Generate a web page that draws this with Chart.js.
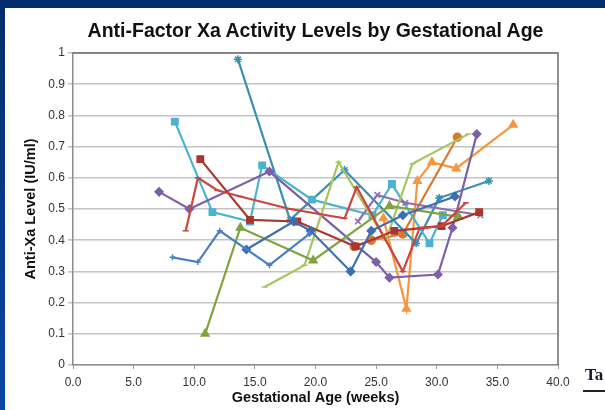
<!DOCTYPE html>
<html>
<head>
<meta charset="utf-8">
<title>Anti-Factor Xa Activity Levels by Gestational Age</title>
<script src="https://cdn.jsdelivr.net/npm/chart.js@4.4.1/dist/chart.umd.min.js"></script>
<style>
  html, body { margin: 0; padding: 0; background: #fff; }
  #wrap { position: relative; width: 605px; height: 410px; overflow: hidden; background: #fff; }
  #topband { position: absolute; left: 0; top: 0; width: 605px; height: 8px; background: #032c6c; }
  #leftband { position: absolute; left: 0; top: 0; width: 5px; height: 410px; background: linear-gradient(#032c6c, #0b46a8); }
  #title { position: absolute; left: 73px; width: 485px; top: 19px; margin: 0; line-height: 24px;
           text-align: center; white-space: nowrap; color: #111;
           font: bold 19.5px "Liberation Sans", Arial, sans-serif; }
  #ta { position: absolute; left: 585px; top: 365px; color: #1b1b2b; font: bold 17px "Liberation Serif", serif; }
  #taline { position: absolute; left: 583px; top: 390px; width: 22px; height: 2px; background: #222; }
  canvas { position: absolute; left: 0; top: 0; }
</style>
</head>
<body>
<div id="wrap">
  <canvas id="chart" width="605" height="410"></canvas>
  <div id="topband"></div>
  <div id="leftband"></div>
  <h1 id="title">Anti-Factor Xa Activity Levels by Gestational Age</h1>
  <div id="ta">Ta</div>
  <div id="taline"></div>
</div>
<script>
// Tick labels
const xTickLabels = ['0.0', '5.0', '10.0', '15.0', '20.0', '25.0', '30.0', '35.0', '40.0'];
const yTickLabels = ['0', '0.1', '0.2', '0.3', '0.4', '0.5', '0.6', '0.7', '0.8', '0.9', '1'];

// One pair of arrays per patient: gestational age (weeks) and anti-Xa level (IU/ml)
const weeksA  = [7.1, 9.6, 16.2, 25.0, 26.1, 30.1, 31.3, 33.3];
const levelsA = [0.555, 0.50, 0.62, 0.33, 0.28, 0.29, 0.44, 0.74];

const weeksB  = [10.5, 14.6, 18.5, 23.3, 26.5, 30.4, 33.5];
const levelsB = [0.66, 0.465, 0.46, 0.38, 0.43, 0.445, 0.49];

const weeksC  = [9.3, 10.3, 11.9, 13.8, 17.9, 22.4, 23.4, 27.2, 28.6, 30.4, 32.4];
const levelsC = [0.43, 0.60, 0.56, 0.54, 0.50, 0.47, 0.57, 0.30, 0.44, 0.445, 0.52];

const weeksD  = [8.4, 11.5, 14.6, 15.6, 19.7, 24.7, 26.3, 29.4, 30.5];
const levelsD = [0.78, 0.49, 0.46, 0.64, 0.53, 0.48, 0.58, 0.39, 0.48];

const weeksE  = [13.6, 17.9, 22.4, 28.3, 30.2, 34.3];
const levelsE = [0.98, 0.465, 0.625, 0.39, 0.535, 0.59];

const weeksF  = [14.3, 18.2, 19.6, 22.9, 24.6, 27.2, 31.5];
const levelsF = [0.37, 0.46, 0.43, 0.30, 0.43, 0.48, 0.54];

const weeksG  = [8.2, 10.3, 12.1, 16.2, 19.5];
const levelsG = [0.345, 0.33, 0.43, 0.32, 0.42];

const weeksH  = [10.9, 13.8, 19.8, 26.1, 31.8];
const levelsH = [0.10, 0.44, 0.335, 0.51, 0.475];

const weeksI  = [15.8, 19.1, 21.9, 25.8, 28.0, 32.6];
const levelsI = [0.25, 0.32, 0.65, 0.40, 0.645, 0.74];

const weeksJ  = [25.6, 27.5, 28.4, 29.6, 31.6, 36.3];
const levelsJ = [0.47, 0.18, 0.59, 0.65, 0.63, 0.77];

const weeksK  = [23.2, 24.6, 27.2, 31.7];
const levelsK = [0.38, 0.40, 0.42, 0.73];

const weeksL  = [23.5, 25.1, 27.4, 33.6];
const levelsL = [0.46, 0.545, 0.52, 0.48];

// Line colour and marker for each patient trace
const traces = [
  { weeks: weeksG, levels: levelsG, color: '#4a80c3', marker: 'cross',    r: 3 },
  { weeks: weeksF, levels: levelsF, color: '#3d6fb0', marker: 'rectRot',  r: 4 },
  { weeks: weeksC, levels: levelsC, color: '#c9453d', marker: 'line',     r: 3 },
  { weeks: weeksB, levels: levelsB, color: '#a9372f', marker: 'rect',     r: 4.5 },
  { weeks: weeksH, levels: levelsH, color: '#80a33f', marker: 'triangle', r: 4.5 },
  { weeks: weeksI, levels: levelsI, color: '#a6c660', marker: 'line',     r: 3 },
  { weeks: weeksA, levels: levelsA, color: '#7d60a8', marker: 'rectRot',  r: 4 },
  { weeks: weeksL, levels: levelsL, color: '#8a6db3', marker: 'crossRot', r: 4 },
  { weeks: weeksD, levels: levelsD, color: '#4bb2cf', marker: 'rect',     r: 4.5 },
  { weeks: weeksE, levels: levelsE, color: '#3b8eb4', marker: 'star',     r: 4 },
  { weeks: weeksK, levels: levelsK, color: '#d9782e', marker: 'circle',   r: 4 },
  { weeks: weeksJ, levels: levelsJ, color: '#f7963e', marker: 'triangle', r: 4.5 }
];

const datasets = traces.map(t => ({
  data: t.weeks.map((w, i) => ({ x: w, y: t.levels[i] })),
  showLine: true,
  borderColor: t.color,
  backgroundColor: t.color,
  borderWidth: 2.2,
  pointStyle: t.marker,
  pointRadius: t.r,
  pointBorderWidth: 1.5,
  pointBorderColor: t.color,
  pointBackgroundColor: t.color,
  tension: 0
}));

const FONT = '"Liberation Sans", Arial, sans-serif';

// Dark frame on the top and right edges of the plot area
const plotFrame = {
  id: 'plotFrame',
  afterDraw(chart) {
    const { ctx, chartArea: a } = chart;
    ctx.save();
    ctx.strokeStyle = '#6e6e6e';
    ctx.lineWidth = 1.5;
    ctx.beginPath();
    ctx.moveTo(a.left, a.top);
    ctx.lineTo(a.right, a.top);
    ctx.lineTo(a.right, a.bottom);
    ctx.stroke();
    ctx.restore();
  }
};

new Chart(document.getElementById('chart'), {
  type: 'scatter',
  data: { datasets },
  plugins: [plotFrame],
  options: {
    responsive: false,
    animation: false,
    layout: { padding: { top: 53, right: 47, left: 0, bottom: 0 } },
    plugins: { legend: { display: false }, tooltip: { enabled: false } },
    scales: {
      x: {
        type: 'linear', min: 0, max: 40,
        afterFit(s) { s.height = 45; },
        ticks: {
          stepSize: 5, autoSkip: false, maxRotation: 0, padding: 6,
          color: '#333', font: { family: FONT, size: 12 },
          callback: (v, i) => xTickLabels[i]
        },
        grid: { drawOnChartArea: false, drawTicks: true, tickLength: 4, color: '#999', lineWidth: 1 },
        border: { color: '#8c8c8c', width: 1.5 },
        title: {
          display: true, text: 'Gestational Age (weeks)', color: '#111',
          font: { family: FONT, size: 14.5, weight: 'bold' }, padding: { top: 0, bottom: 3 }
        }
      },
      y: {
        min: 0, max: 1,
        afterFit(s) { s.width = 73; },
        ticks: {
          stepSize: 0.1, padding: 3,
          color: '#333', font: { family: FONT, size: 12 },
          callback: (v, i) => yTickLabels[i]
        },
        grid: { color: '#c4c4c4', lineWidth: 1.6, tickLength: 5 },
        border: { color: '#8c8c8c', width: 1.5 },
        title: {
          display: true, text: 'Anti-Xa Level (IU/ml)', color: '#111',
          font: { family: FONT, size: 14.5, weight: 'bold' }, padding: { top: 22, bottom: 0 }
        }
      }
    }
  }
});
</script>
</body>
</html>
